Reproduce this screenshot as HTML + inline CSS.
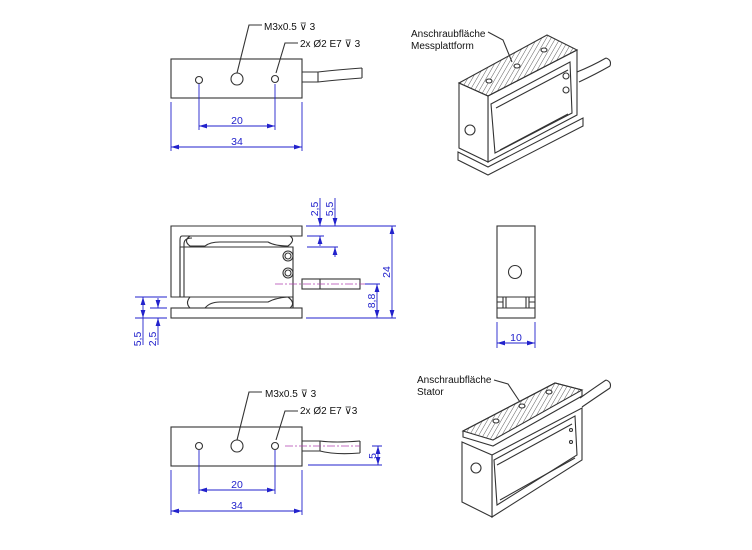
<!DOCTYPE html>
<html><head><meta charset="utf-8"><style>
html,body{margin:0;padding:0;background:#fff}
svg{display:block}
text{font-family:"Liberation Sans",Arial,sans-serif}
.k{stroke:#333;stroke-width:1.1;fill:none}
.kf{stroke:#333;stroke-width:1.1;fill:#fff}
.b{stroke:#2222cc;stroke-width:0.9;fill:none}
.bt{fill:#2222cc;font-size:10.5px}
.t{fill:#111;font-size:10px}
.c{stroke:#b040b0;stroke-width:0.8;stroke-dasharray:8 2 2 2;fill:none}
</style></head><body>
<svg width="752" height="550" viewBox="0 0 752 550" xmlns="http://www.w3.org/2000/svg">
<defs>
<marker id="a" viewBox="0 0 10 6" refX="10" refY="3" markerWidth="8" markerHeight="5" orient="auto-start-reverse" markerUnits="userSpaceOnUse"><path d="M0,0L10,3L0,6z" fill="#2222cc"/></marker>
<pattern id="h" patternUnits="userSpaceOnUse" width="4" height="4" patternTransform="rotate(30)"><line x1="0" y1="0" x2="0" y2="4" stroke="#333" stroke-width="0.8"/></pattern>
</defs>

<!-- ===== Top plan view ===== -->
<g>
<rect x="171" y="59" width="131" height="39" class="k"/>
<circle cx="199" cy="80" r="3.5" class="k"/>
<circle cx="237" cy="79" r="6" class="k" stroke-width="1.6"/>
<circle cx="275" cy="79" r="3.5" class="k"/>
<path d="M302,72 L318,72 Q335,70 362,68 M302,82 L318,82 Q335,80 362,78 M318,72 L318,82 M362,68 L362,78" class="k"/>
<path d="M237,73 L249,25 L262,25" class="k" stroke-width="0.8"/>
<path d="M276,73 L285,43 L298,43" class="k" stroke-width="0.8"/>
<text x="264" y="30" class="t">M3x0.5 ⊽ 3</text>
<text x="300" y="47" class="t">2x Ø2 E7 ⊽ 3</text>
<path d="M199,84 V130 M275,84 V130 M171,102 V151 M302,102 V151" class="b"/>
<line x1="199" y1="126" x2="275" y2="126" class="b" marker-start="url(#a)" marker-end="url(#a)"/>
<line x1="171" y1="147" x2="302" y2="147" class="b" marker-start="url(#a)" marker-end="url(#a)"/>
<text x="237" y="124" class="bt" text-anchor="middle">20</text>
<text x="237" y="145" class="bt" text-anchor="middle">34</text>
</g>

<!-- ===== Side view ===== -->
<g>
<path d="M171,226 H302 V236 H182 Q180,236 180,240 V297 H171 Z" class="k"/>
<rect x="171" y="308" width="131" height="10" class="k"/>
<path d="M171,297 H293 V308" class="k"/>
<path d="M180,297 V247 H293 V308" class="k"/>
<path d="M184,297 V244 Q184,238 192,238" class="k" stroke-width="0.8"/>
<path d="M190,236 Q183,241 190,246 H205 Q210,242 220,242 H268 Q275,246 288,246 Q296,240 290,236" class="k" stroke-width="0.8"/>
<path d="M190,297 Q185,303 190,308 H205 Q210,302 220,302 H268 Q275,298 288,297 Q296,303 290,308" class="k" stroke-width="0.8"/>
<circle cx="288" cy="256" r="5" class="k"/><circle cx="288" cy="256" r="3" class="k"/>
<circle cx="288" cy="273" r="5" class="k"/><circle cx="288" cy="273" r="3" class="k"/>
<rect x="302" y="279" width="58" height="10" class="k"/>
<line x1="320" y1="279" x2="320" y2="289" class="k"/>
<line x1="275" y1="284" x2="370" y2="284" class="c"/>
<path d="M306,226 H396 M307,236 H324 M307,247 H338 M306,318 H396 M365,284 H380" class="b"/>
<line x1="320" y1="198" x2="320" y2="226" class="b" marker-end="url(#a)"/>
<line x1="320" y1="246" x2="320" y2="236" class="b" marker-end="url(#a)"/>
<line x1="335" y1="198" x2="335" y2="226" class="b" marker-end="url(#a)"/>
<line x1="335" y1="257" x2="335" y2="247" class="b" marker-end="url(#a)"/>
<line x1="392" y1="226" x2="392" y2="318" class="b" marker-start="url(#a)" marker-end="url(#a)"/>
<line x1="377" y1="284" x2="377" y2="318" class="b" marker-start="url(#a)" marker-end="url(#a)"/>
<text transform="translate(318,209) rotate(-90)" class="bt" text-anchor="middle">2,5</text>
<text transform="translate(333,209) rotate(-90)" class="bt" text-anchor="middle">5,5</text>
<text transform="translate(390,272) rotate(-90)" class="bt" text-anchor="middle">24</text>
<text transform="translate(375,301) rotate(-90)" class="bt" text-anchor="middle">8,8</text>
<path d="M135,297 H167 M150,308 H167 M135,318 H167" class="b"/>
<line x1="143" y1="297" x2="143" y2="318" class="b" marker-start="url(#a)" marker-end="url(#a)"/>
<line x1="143" y1="318" x2="143" y2="345" class="b"/>
<line x1="158" y1="298" x2="158" y2="308" class="b" marker-end="url(#a)"/>
<line x1="158" y1="345" x2="158" y2="318" class="b" marker-end="url(#a)"/>
<text transform="translate(141,339) rotate(-90)" class="bt" text-anchor="middle">5,5</text>
<text transform="translate(156,339) rotate(-90)" class="bt" text-anchor="middle">2,5</text>
</g>

<!-- ===== Front view ===== -->
<g>
<rect x="497" y="226" width="38" height="92" class="k"/>
<circle cx="515" cy="272" r="6.5" class="k" stroke-width="1.5"/>
<path d="M497,297 H535 M497,308 H535 M503,297 V308 M506,297 V308 M526,297 V308 M529,297 V308 M497,302 H503 M529,302 H535" class="k" stroke-width="0.8"/>
<path d="M497,322 V348 M535,322 V348" class="b"/>
<line x1="497" y1="343" x2="535" y2="343" class="b" marker-start="url(#a)" marker-end="url(#a)"/>
<text x="516" y="341" class="bt" text-anchor="middle">10</text>
</g>

<!-- ===== Bottom plan view ===== -->
<g>
<rect x="171" y="427" width="131" height="39" class="k"/>
<circle cx="199" cy="446" r="3.5" class="k"/>
<circle cx="237" cy="446" r="6" class="k" stroke-width="1.6"/>
<circle cx="275" cy="446" r="3.5" class="k"/>
<path d="M302,441 L320,441 Q335,443 360,441 M302,451 L320,451 Q335,455 360,453 M320,441 V451 M360,441 V453" class="k"/>
<line x1="285" y1="446" x2="360" y2="446" class="c"/>
<path d="M237,440 L249,392 L262,392" class="k" stroke-width="0.8"/>
<path d="M276,440 L285,411 L298,411" class="k" stroke-width="0.8"/>
<text x="265" y="397" class="t">M3x0.5 ⊽ 3</text>
<text x="300" y="414" class="t">2x Ø2 E7 ⊽3</text>
<path d="M308,465 H382 M372,446 H382" class="b"/>
<line x1="378" y1="446" x2="378" y2="465" class="b" marker-start="url(#a)" marker-end="url(#a)"/>
<text transform="translate(376,456) rotate(-90)" class="bt" text-anchor="middle">5</text>
<path d="M199,450 V494 M275,450 V494 M171,470 V515 M302,470 V515" class="b"/>
<line x1="199" y1="490" x2="275" y2="490" class="b" marker-start="url(#a)" marker-end="url(#a)"/>
<line x1="171" y1="511" x2="302" y2="511" class="b" marker-start="url(#a)" marker-end="url(#a)"/>
<text x="237" y="488" class="bt" text-anchor="middle">20</text>
<text x="237" y="509" class="bt" text-anchor="middle">34</text>
</g>

<!-- ===== Iso top ===== -->
<g>
<path d="M577,72 Q592,66 606,58 M579,82 Q596,74 610,66 M606,58 Q612,60 610,66" class="k"/>
<path d="M458,152 L488,167 L583,118 L583,126 L488,175 L458,160 Z" class="kf"/>
<path d="M488,96 L577,50 L577,115 L488,162 Z" class="kf"/>
<path d="M491,104 L570,62 L572,113 L495,153 Z" class="k" stroke-width="0.8"/>
<path d="M496,108 L568,70 M500,150 L568,114" class="k" stroke-width="0.7"/>
<circle cx="566" cy="76" r="3" class="k"/><circle cx="566" cy="90" r="3" class="k"/>
<path d="M459,83 L488,96 L488,162 L459,148 Z" class="kf"/>
<path d="M459,83 L547,35 L577,50 L488,96 Z" fill="url(#h)" stroke="#333" stroke-width="1.1"/>
<ellipse cx="489" cy="81" rx="3" ry="2" class="kf"/><ellipse cx="517" cy="66" rx="3" ry="2" class="kf"/><ellipse cx="544" cy="50" rx="3" ry="2" class="kf"/>
<circle cx="470" cy="130" r="5" class="k" stroke-width="1.4"/>
<text x="411" y="37" class="t">Anschraubfläche</text>
<text x="411" y="49" class="t">Messplattform</text>
<path d="M488,32 L503,40 L512,62" class="k" stroke-width="0.8"/>
</g>

<!-- ===== Iso bottom ===== -->
<g>
<path d="M580,398 Q594,388 606,380 M582,407 Q598,396 610,388 M606,380 Q612,382 610,388" class="k"/>
<path d="M492,455 L582,408 L582,460 L492,517 Z" class="kf"/>
<path d="M494,460 L575,416 L577,455 L497,505 Z" class="k" stroke-width="0.8"/>
<path d="M497,465 L572,424 M500,500 L575,458" class="k" stroke-width="0.7"/>
<circle cx="571" cy="430" r="1.5" class="k"/><circle cx="571" cy="442" r="1.5" class="k"/>
<path d="M462,442 L492,455 L492,517 L462,502 Z" class="kf"/>
<path d="M463,431 L555,383 L582,390 L582,396 L493,446 L463,437 Z" class="kf"/>
<path d="M463,431 L555,383 L582,390 L493,440 Z" fill="url(#h)" stroke="#333" stroke-width="1.1"/>
<ellipse cx="496" cy="421" rx="3" ry="2" class="kf"/><ellipse cx="522" cy="406" rx="3" ry="2" class="kf"/><ellipse cx="549" cy="392" rx="3" ry="2" class="kf"/>
<circle cx="476" cy="468" r="5" class="k" stroke-width="1.4"/>
<text x="417" y="383" class="t">Anschraubfläche</text>
<text x="417" y="395" class="t">Stator</text>
<path d="M494,380 L508,384 L520,402" class="k" stroke-width="0.8"/>
</g>
</svg>
</body></html>
